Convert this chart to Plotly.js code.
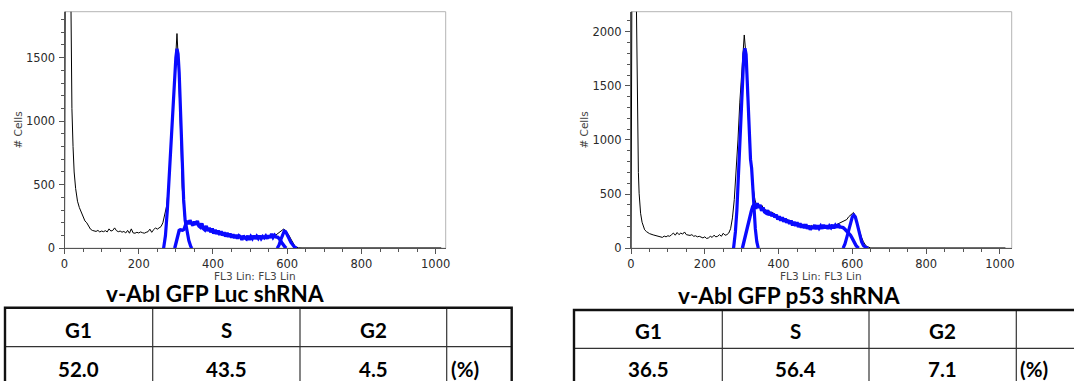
<!DOCTYPE html>
<html>
<head>
<meta charset="utf-8">
<script src="https://cdn.plot.ly/plotly-3.0.1.min.js"></script>
<style>
  html, body { margin: 0; padding: 0; background: #ffffff; }
  #chart { width: 1074px; height: 381px; }
</style>
</head>
<body>
<div id="chart"></div>
<script>
// ---------------- DATA ----------------
// Left panel: v-Abl GFP Luc shRNA
const lucDataX = [0,1,3,14,16,18,20,23,26,30,35,40,45,50,55,60,65,70,75,80,85,90,95,100,105,110,115,120,125,130,135,140,145,150,155,160,165,170,175,180,185,190,195,200,205,210,215,220,225,230,235,240,245,250,255,260,265,270,275,280,284,288,293,297,300,303,306,309,311,314,317,320,323,326,330,335,340,345,350,355,360,365,370,375,380,385,390,395,400,405,410,415,420,425,430,435,440,445,450,455,460,465,470,475,480,485,490,495,500,505,510,515,520,525,530,535,540,545,550,555,560,565,570,575,580,585,590,595,600,605,610,615,620,625,630,640,660,700,800,900,1000,1015];
const lucDataY = [0,2500,3000,3000,2200,1500,1100,800,600,470,370,320,280,240,215,200,175,150,140,138,132,140,128,135,130,138,128,152,135,140,160,138,130,135,126,132,120,140,118,152,120,118,125,120,128,122,118,125,130,150,125,145,160,150,158,170,200,260,330,480,640,900,1170,1450,1600,1690,1520,1300,1166,800,480,330,250,215,205,212,205,195,208,195,205,180,188,165,162,150,150,138,140,130,125,130,118,115,118,105,108,100,100,95,98,90,92,85,88,85,80,88,78,85,88,82,86,88,84,86,88,85,90,92,100,98,105,115,125,140,150,142,125,100,72,42,20,8,3,2,2,2,2,2,2,2];
const lucG1X = [267,272,277,282,287,292,296,300,303,306,309,312,315,318,321,325,330,335,340,343];
const lucG1Y = [0,100,300,580,850,1100,1330,1500,1570,1530,1380,1120,820,560,380,220,120,60,15,0];
const lucSX = [297,301,305,309,312,318,322,326,330,334,338,342,346,350,354,358,362,366,370,374,378,382,386,390,394,398,402,406,410,414,418,422,426,430,434,438,442,446,450,454,458,462,466,470,474,478,482,486,490,494,498,502,506,510,514,518,522,526,530,534,538,542,546,550,554,558,562,566,570,575,580,585,590,595,598];
const lucSY = [0,50,100,140,145,142,148,192,215,190,220,195,180,210,185,215,175,165,195,155,145,175,135,160,125,155,115,145,112,140,105,132,100,125,92,120,90,115,84,108,80,104,76,98,90,66,98,80,72,98,66,92,76,98,74,94,78,98,76,92,82,96,76,100,82,112,86,102,88,85,70,45,20,5,0];
const lucG2X = [573,578,583,588,592,596,600,605,610,615,620,626];
const lucG2Y = [0,25,70,115,135,130,110,75,45,22,8,0];

// Right panel: v-Abl GFP p53 shRNA
const p53DataX = [0,1,3,12,14,17,20,22,24,26,30,33,37,42,50,60,70,79,85,90,95,100,105,110,115,120,125,130,135,140,145,150,155,160,165,170,175,180,185,190,195,200,205,210,215,220,225,230,235,240,245,250,255,260,265,270,275,280,285,290,295,300,304,307,310,314,318,322,327,331,336,340,345,350,355,360,365,370,375,380,385,390,395,400,405,410,415,420,425,430,435,440,445,450,455,460,465,470,475,480,485,490,495,500,505,510,515,520,525,530,535,540,545,550,555,560,565,570,575,580,585,590,595,600,603,606,610,615,620,625,630,635,640,645,650,700,800,900,1000,1015];
const p53DataY = [0,2500,3000,3000,2400,1062,700,508,400,323,240,200,170,153,135,123,112,107,100,112,105,115,110,125,140,120,145,125,140,130,150,125,120,118,125,110,115,105,110,100,95,105,90,95,110,100,120,105,110,125,110,138,120,125,140,180,280,450,700,1000,1350,1650,1900,1970,1850,1500,1150,900,753,560,446,400,410,370,395,360,355,340,345,320,330,300,310,292,290,275,280,260,265,250,245,240,231,232,220,225,215,220,205,210,200,210,195,200,205,198,200,205,195,208,200,205,210,206,215,218,230,240,248,255,265,290,310,320,330,310,260,200,150,100,60,30,15,5,2,2,2,2,2,2];
const p53G1X = [278,283,287,291,295,299,303,306,309,312,315,318,321,324,327,330,333,337,341,345];
const p53G1Y = [0,150,350,650,1000,1350,1650,1800,1847,1790,1550,1250,980,820,740,560,360,180,60,0];
const p53SX = [302,306,310,314,318,322,326,330,334,338,342,346,350,354,358,362,366,370,374,378,382,386,390,394,398,402,406,410,414,418,422,426,430,434,438,442,446,450,454,458,462,466,470,474,478,482,486,490,494,498,502,506,510,514,518,522,526,530,534,538,542,546,550,554,558,562,566,570,575,580,585,590,595,600,605,610,615,618];
const p53SY = [0,60,120,190,250,292,340,385,405,365,415,375,400,345,375,335,325,350,305,335,295,320,285,310,265,295,255,285,245,275,235,260,225,255,210,245,205,240,195,230,190,220,185,220,180,210,170,205,180,215,175,210,185,205,180,215,185,210,180,205,190,215,185,210,190,220,195,195,190,175,160,140,120,90,55,25,5,0];
const p53G2X = [575,580,585,590,595,600,604,608,612,616,620,625,630,636,643];
const p53G2Y = [0,40,100,170,240,290,307,290,240,180,120,60,25,8,0];

// Tick labels / axis text
const xTicks = [0, 200, 400, 600, 800, 1000];
const xAxisTitle = 'FL3 Lin: FL3 Lin';
const yAxisTitle = '# Cells';

// Titles and tables
const panelTitles = ['v-Abl GFP Luc shRNA', 'v-Abl GFP p53 shRNA'];
const phaseLabels = ['G1', 'S', 'G2'];
const lucPercent = [52.0, 43.5, 4.5];
const p53Percent = [36.5, 56.4, 7.1];
const unitLabel = '(%)';

// ---------------- LAYOUT HELPERS ----------------
const W = 1074, H = 381;
const px = x => x / W;
const py = y => 1 - y / H;

const BLUE = '#0a0aff';
const tickFont = { family: 'DejaVu Sans, sans-serif', size: 11.5, color: '#2a2a2a' };
const titleFont = { family: 'DejaVu Sans, sans-serif', size: 10.5, color: '#444444' };

function lineTrace(x, y, xa, ya, color, width) {
  return { type: 'scatter', mode: 'lines', x: x, y: y, xaxis: xa, yaxis: ya,
           line: { color: color, width: width, shape: 'linear' }, hoverinfo: 'skip', showlegend: false };
}

const traces = [
  lineTrace(lucDataX, lucDataY, 'x', 'y', '#000000', 1),
  lineTrace(lucSX, lucSY, 'x', 'y', BLUE, 3.4),
  lineTrace(lucG2X, lucG2Y, 'x', 'y', BLUE, 3.2),
  lineTrace(lucG1X, lucG1Y, 'x', 'y', BLUE, 3.2),
  lineTrace(p53DataX, p53DataY, 'x2', 'y2', '#000000', 1),
  lineTrace(p53SX, p53SY, 'x2', 'y2', BLUE, 3.4),
  lineTrace(p53G2X, p53G2Y, 'x2', 'y2', BLUE, 3.2),
  lineTrace(p53G1X, p53G1Y, 'x2', 'y2', BLUE, 3.2)
];

function xAxis(domain, range, anchor) {
  return {
    domain: domain, range: range, anchor: anchor,
    tickmode: 'array', tickvals: xTicks, ticktext: xTicks.map(String),
    ticks: 'outside', ticklen: 5, tickwidth: 1, tickcolor: '#555555',
    minor: { tick0: 0, dtick: 50, ticks: 'outside', ticklen: 3, tickwidth: 1, tickcolor: '#555555', showgrid: false },
    showline: true, linecolor: '#555555', linewidth: 1,
    showgrid: false, zeroline: false, tickfont: tickFont, fixedrange: true
  };
}
function yAxis(domain, range, anchor) {
  return {
    domain: domain, range: range, anchor: anchor,
    tick0: 0, dtick: 500,
    ticks: 'outside', ticklen: 5, tickwidth: 1, tickcolor: '#555555',
    ticklabelstandoff: 1,
    minor: { tick0: 0, dtick: 100, ticks: 'outside', ticklen: 3, tickwidth: 1, tickcolor: '#555555', showgrid: false },
    showline: true, linecolor: '#555555', linewidth: 1,
    showgrid: false, zeroline: false, tickfont: tickFont, fixedrange: true,
    title: { text: yAxisTitle, font: titleFont, standoff: 1 }
  };
}

const xDomL = [px(64.5), px(445.7)], xDomR = [px(631), px(1011.7)];
const yDom = [py(248.2), py(11.7)];
const layout = {
  width: W, height: H,
  margin: { l: 0, r: 0, t: 0, b: 0, pad: 0 },
  paper_bgcolor: '#ffffff', plot_bgcolor: '#ffffff',
  showlegend: false,
  xaxis: xAxis(xDomL, [0, 1027], 'y'),
  yaxis: yAxis(yDom, [0, 1862], 'x'),
  xaxis2: xAxis(xDomR, [0, 1032], 'y2'),
  yaxis2: yAxis(yDom, [0, 2185], 'x2'),
  shapes: [],
  annotations: []
};

// plot frames (light grey top/right border)
['', '2'].forEach(s => {
  layout.shapes.push({ type: 'rect', xref: 'x' + s + ' domain', yref: 'y' + s + ' domain',
    x0: 0, x1: 1, y0: 0, y1: 1, line: { color: '#b4b4b4', width: 1 }, layer: 'below' });
});

// x-axis titles (placed just under the tick labels)
[xDomL, xDomR].forEach(d => {
  layout.annotations.push({ xref: 'paper', yref: 'paper', x: (d[0] + d[1]) / 2, y: py(276),
    text: xAxisTitle, showarrow: false, xanchor: 'center', yanchor: 'middle', font: titleFont, borderpad: 0 });
});

// Panel titles
const titleFontBig = { family: 'Lato, "Open Sans", sans-serif', size: 22.5, color: '#000000' };
layout.annotations.push({ xref: 'paper', yref: 'paper', x: px(214.5), y: py(293.5), text: '<b>' + panelTitles[0] + '</b>',
  showarrow: false, xanchor: 'center', yanchor: 'middle', font: titleFontBig, borderpad: 0 });
layout.annotations.push({ xref: 'paper', yref: 'paper', x: px(789), y: py(295), text: '<b>' + panelTitles[1] + '</b>',
  showarrow: false, xanchor: 'center', yanchor: 'middle', font: titleFontBig, borderpad: 0 });

// Tables
function addTable(colEdges, top, mid, bottom, values, headY, valY) {
  const L = colEdges[0], R = colEdges[colEdges.length - 1];
  for (let i = 1; i < colEdges.length - 1; i++) {
    layout.shapes.push({ type: 'line', xref: 'paper', yref: 'paper', x0: px(colEdges[i]), x1: px(colEdges[i]),
      y0: py(top), y1: py(bottom), line: { color: '#333333', width: 1.2 } });
  }
  layout.shapes.push({ type: 'line', xref: 'paper', yref: 'paper', x0: px(L), x1: px(R),
    y0: py(mid), y1: py(mid), line: { color: '#333333', width: 1.2 } });
  layout.shapes.push({ type: 'rect', xref: 'paper', yref: 'paper', x0: px(L), x1: px(R),
    y0: py(bottom), y1: py(top), line: { color: '#111111', width: 2.4 } });
  const cellFont = { family: 'Lato, "Open Sans", sans-serif', size: 20.5, color: '#000000' };
  for (let i = 0; i < phaseLabels.length; i++) {
    const cx = (colEdges[i] + colEdges[i + 1]) / 2;
    layout.annotations.push({ xref: 'paper', yref: 'paper', x: px(cx), y: py(headY), text: '<b>' + phaseLabels[i] + '</b>',
      showarrow: false, xanchor: 'center', yanchor: 'middle', font: cellFont });
    layout.annotations.push({ xref: 'paper', yref: 'paper', x: px(cx), y: py(valY), text: '<b>' + values[i].toFixed(1) + '</b>',
      showarrow: false, xanchor: 'center', yanchor: 'middle', font: cellFont });
  }
  layout.annotations.push({ xref: 'paper', yref: 'paper', x: px(colEdges[3] + 2), y: py(valY), text: '<b>' + unitLabel + '</b>',
    showarrow: false, xanchor: 'left', yanchor: 'middle', font: cellFont });
}
addTable([5, 152.7, 300, 446.7, 511.7], 307.7, 346.7, 420, lucPercent, 329.5, 368.5);
addTable([574, 722.3, 869, 1016.3, 1165], 310, 348.3, 420, p53Percent, 330.5, 368.5);

Plotly.newPlot('chart', traces, layout, { staticPlot: true, displayModeBar: false });
</script>
</body>
</html>
